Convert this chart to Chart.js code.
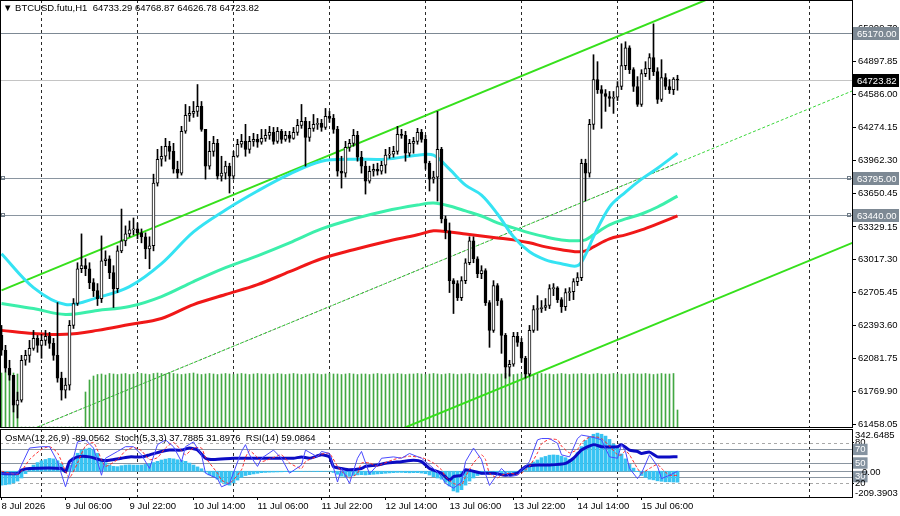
<!DOCTYPE html>
<html lang="en">
<head>
<meta charset="utf-8">
<title>BTCUSD.futu,H1</title>
<script src="https://cdn.jsdelivr.net/npm/chart.js@4.4.1/dist/chart.umd.min.js"></script>
<style>
  html, body { margin: 0; padding: 0; background: #fff; }
  #wrap { position: relative; width: 900px; height: 516px; overflow: hidden; background: #fff; }
  #mainBox { position: absolute; left: 0; top: 0; width: 900px; height: 428px; }
  #subBox { position: absolute; left: 0; top: 428px; width: 900px; height: 88px; }
  .label { position: absolute; font: 9.5px "Liberation Sans", Arial, sans-serif; color: #000; white-space: pre; line-height: 12px; }
  #title { left: 3px; top: 2px; }
  #subTitle { left: 5px; top: 432px; }
</style>
</head>
<body>
<div id="wrap">
  <div id="mainBox"><canvas id="mainChart" width="900" height="428"></canvas></div>
  <div id="subBox"><canvas id="subChart" width="900" height="88"></canvas></div>
  <div class="label" id="title">▼ BTCUSD.futu,H1  64733.29 64768.87 64626.78 64723.82</div>
  <div class="label" id="subTitle">OsMA(12,26,9) -89.0562  Stoch(5,3,3) 37.7885 31.8976  RSI(14) 59.0864</div>
</div>
<script>
// Bars are hourly, index 0 = 8 Jul 2026 14:00
const X_MIN = -0.375;
const X_MAX = 212.625;
const P_MIN = 61429.6;
const P_MAX = 65483.5;

const firstOpen = 62299;

const closes = [
  62158, 61987, 61921, 61638, 61685, 62063, 62110, 62176, 62271, 62205,
  62252, 62290, 62224, 62110, 61893, 61780, 61827, 62394, 62602, 62932,
  62961, 62932, 62800, 62724, 62649, 63008, 63027, 62895, 62743, 63102,
  63197, 63263, 63301, 63310, 63273, 63235, 63121, 63150, 63745, 63972,
  64000, 64095, 64047, 63877, 63840, 64237, 64388, 64407, 64426, 64473,
  64255, 63906, 64047, 64123, 63811, 63840, 63906, 63811, 64000, 64114,
  64142, 64066, 64142, 64161, 64133, 64170, 64199, 64227, 64142, 64237,
  64161, 64199, 64170, 64227, 64293, 64331, 64180, 64265, 64303, 64312,
  64274, 64378, 64359, 64255, 63858, 63840, 64085, 64123, 64199, 63991,
  63906, 63764, 63858, 63877, 63858, 63915, 64010, 64019, 64047, 64208,
  64199, 64029, 64123, 64142, 64227, 64161, 63934, 63783, 63802, 64066,
  63405, 63292, 62819, 62791, 62658, 62819, 62989, 63197, 63027, 62885,
  62914, 62611, 62347, 62772, 62630, 62299, 61997, 62025, 62290, 62233,
  62082, 61931, 62347, 62545, 62554, 62564, 62583, 62743, 62750, 62639,
  62573, 62706, 62715, 62810, 62847, 63934, 63840, 64303, 64728, 64633,
  64596, 64567, 64548, 64560, 64662, 64860, 65030, 64822, 64662, 64492,
  64785, 64832, 64936, 64804, 64539, 64747, 64662, 64633, 64733.29, 64723.82
];

const highs = [
  62394, 62205, 62063, 61921, 61761, 62110, 62158, 62252, 62347, 62299,
  62309, 62347, 62328, 62271, 62611, 61950, 61893, 62441, 62649, 62989,
  63263, 63027, 62989, 62838, 62791, 63244, 63102, 63055, 62961, 63150,
  63499, 63339, 63386, 63414, 63367, 63310, 63273, 63235, 63830, 64066,
  64095, 64170, 64142, 64123, 63953, 64284, 64492, 64473, 64520, 64681,
  64520, 64255, 64142, 64189, 64161, 64000, 63953, 63934, 64047, 64161,
  64208, 64303, 64189, 64218, 64208, 64255, 64255, 64284, 64274, 64274,
  64255, 64237, 64237, 64274, 64350, 64492, 64369, 64331, 64397, 64359,
  64350, 64454, 64426, 64397, 64284, 64000, 64142, 64161, 64255, 64237,
  64047, 63953, 63906, 63925, 63934, 63953, 64066, 64085, 64095, 64284,
  64255, 64237, 64161, 64180, 64265, 64255, 64199, 63953, 63858, 64426,
  64085, 63433, 63367, 62838, 62819, 62857, 63027, 63235, 63235, 63046,
  62961, 62932, 62630, 62819, 62791, 62649, 62318, 62063, 62328, 62328,
  62271, 62101, 62394, 62583, 62677, 62630, 62649, 62781, 62791, 62762,
  62658, 62743, 62753, 62838, 62895, 63972, 63972, 64350, 64964, 64898,
  64671, 64633, 64615, 64615, 64709, 65068, 65087, 65049, 64841, 64756,
  64822, 64898, 64974, 65257, 64841, 64917, 64785, 64728, 64747, 64768.87
];

const lows = [
  62110, 61950, 61874, 61572, 61515, 61666, 62016, 62044, 62158, 62139,
  62082, 62205, 62176, 62063, 61855, 61685, 61704, 61780, 62365, 62583,
  62895, 62866, 62743, 62668, 62583, 62611, 62961, 62838, 62564, 62706,
  63084, 63150, 63235, 63254, 63216, 63178, 63027, 62932, 63102, 63717,
  63906, 63953, 63972, 63840, 63792, 63821, 64218, 64331, 64369, 64378,
  64237, 63783, 63877, 64000, 63783, 63764, 63783, 63651, 63783, 63991,
  64085, 64000, 64029, 64095, 64085, 64114, 64142, 64161, 64114, 64123,
  64123, 64142, 64133, 64161, 64199, 64265, 63906, 64142, 64237, 64255,
  64237, 64255, 64322, 64218, 63811, 63698, 63802, 64047, 64095, 63953,
  63840, 63641, 63745, 63811, 63821, 63830, 63840, 63981, 63991, 64019,
  64170, 63953, 64000, 64029, 64114, 64133, 63877, 63670, 63745, 63575,
  63367, 63216, 62706, 62507, 62630, 62630, 62791, 62970, 62989, 62847,
  62838, 62583, 62186, 62328, 62583, 62129, 61893, 61912, 62006, 62195,
  62044, 61893, 61912, 62328, 62347, 62517, 62536, 62554, 62677, 62611,
  62517, 62536, 62630, 62639, 62772, 62819, 63575, 63802, 64255, 64596,
  64265, 64426, 64473, 64407, 64529, 64633, 64822, 64785, 64615, 64473,
  64473, 64756, 64728, 64766, 64501, 64520, 64633, 64596, 64586, 64626.78
];

const volumes = [
  5400, 5450, 5350, 5400, 5300, 0, 0, 0, 0, 0,
  0, 0, 0, 0, 0, 0, 0, 0, 0, 0,
  0, 3500, 4700, 5100, 5250, 5300, 5200, 5350, 5300, 5250,
  5300, 5350, 5250, 5300, 5400, 5350, 5300, 5250, 5350, 5400,
  5350, 5300, 5400, 5350, 5300, 5250, 5300, 5350, 5400, 5300,
  5250, 5300, 5350, 5300, 5250, 5300, 5350, 5300, 5250, 5300,
  5350, 5300, 5250, 5300, 5350, 5300, 5300, 5250, 5300, 5350,
  5300, 5250, 5300, 5350, 5300, 5250, 5300, 5300, 5350, 5300,
  5250, 5300, 5350, 5300, 5300, 5250, 5300, 5350, 5300, 5250,
  5300, 5300, 5250, 5300, 5350, 5300, 5250, 5300, 5300, 5350,
  5300, 5250, 5300, 5300, 5350, 5300, 5250, 5300, 5350, 5300,
  5250, 5300, 5350, 5300, 5250, 5300, 5300, 5350, 5300, 5250,
  5300, 5350, 5300, 5250, 5300, 5300, 5350, 5300, 5250, 5300,
  5300, 5350, 5300, 5250, 5300, 5350, 5300, 5300, 5250, 5300,
  5350, 5300, 5250, 5300, 5300, 5350, 5300, 5250, 5300, 5350,
  5300, 5250, 5300, 5350, 5300, 5300, 5250, 5300, 5350, 5300,
  5300, 5350, 5300, 5250, 5300, 5350, 5300, 5300, 5350, 1700
];
const VOL_MAX = 42700;

// Moving averages, read at these bars
const maBars = [0, 8, 16, 24, 32, 40, 48, 56, 64, 72, 80, 88, 96, 104, 108, 112, 116, 120, 124, 128, 132, 136, 140, 144, 146, 148, 152, 156, 160, 164, 169];
const maFast = [63074, 62753, 62592, 62658, 62762, 62980, 63282, 63490, 63670, 63830, 63953, 63972, 63972, 64010, 64010, 63877, 63726, 63632, 63452, 63235, 63093, 63017, 62980, 62961, 63065, 63235, 63518, 63660, 63783, 63887, 64029];
const maMid = [62602, 62554, 62498, 62536, 62573, 62668, 62810, 62942, 63055, 63178, 63310, 63405, 63481, 63537, 63556, 63528, 63481, 63433, 63367, 63320, 63273, 63235, 63206, 63197, 63206, 63254, 63348, 63405, 63452, 63518, 63622];
const maSlow = [62347, 62318, 62309, 62347, 62403, 62460, 62592, 62687, 62781, 62904, 63027, 63112, 63188, 63254, 63292, 63282, 63263, 63244, 63225, 63206, 63178, 63140, 63112, 63093, 63102, 63140, 63216, 63254, 63301, 63358, 63433];

// Trend channel end points
const upperBars = [0, 190];
const upperPrices = [62726, 65701];
const lowerBars = [100, 213];
const lowerPrices = [61411, 63182];
const midBars = [0, 213];
const midPrices = [61288, 64625];
const midPastBars = [0, 169];
const midPastPrices = [61288, 63936];

// Axis ticks and levels
const priceTicks = [65209.70, 64897.85, 64586.00, 64274.15, 63962.30, 63650.45, 63329.15, 63017.30, 62705.45, 62393.60, 62081.75, 61769.90, 61458.05];
const priceLevels = [65170.00, 64723.82, 63795.00, 63440.00];
const levelLine = ['#7d8994', '#c4c4c4', '#8a95a0', '#8a95a0'];
const levelBox = ['#7d8994', '#000000', '#7d8994', '#7d8994'];
const levelMarked = [false, false, true, true];

const timeTickBars = [0, 16, 32, 48, 64, 80, 96, 112, 128, 144, 160];
const timeLabels = ['8 Jul 2026', '9 Jul 06:00', '9 Jul 22:00', '10 Jul 14:00', '11 Jul 06:00', '11 Jul 22:00', '12 Jul 14:00', '13 Jul 06:00', '13 Jul 22:00', '14 Jul 14:00', '15 Jul 06:00'];
const dayStarts = [10, 34, 58, 82, 106, 130, 154, 178, 202];

// Indicator window
const osma = [
  -113, -110, -105, -95, -80, -55, -20, 15, 50, 70,
  85, 95, 104, 100, 85, 60, 20, 50, 110, 146,
  170, 180, 187, 175, 146, 100, 70, 50, 40, 37,
  45, 50, 52, 50, 50, 50, 55, 62, 70, 80,
  91, 98, 104, 100, 93, 88, 80, 66, 50, 35,
  20, -8, -30, -45, -65, -90, -105, -113, -95, -72,
  -50, -35, -28, -22, -17, -12, -10, -8, -7, -6,
  -5, -4, -4, -3, -2, -2, -1, -1, -2, -3,
  -2, -1, -1, -10, -25, -40, -45, -42, -35, -30,
  -28, -30, -28, -25, -22, -20, -17, -14, -12, -10,
  -10, -12, -13, -12, -12, -15, -20, -31, -45, -55,
  -65, -90, -120, -160, -170, -150, -113, -80, -55, -35,
  -25, -22, -25, -22, -20, -22, -25, -24, -18, -8,
  15, 35, 55, 75, 91, 110, 120, 130, 132, 130,
  122, 110, 95, 95, 150, 200, 250, 280, 300, 309,
  300, 285, 258, 220, 187, 140, 100, 55, 25, -4,
  -35, -50, -65, -70, -78, -82, -86, -86, -88, -89.0562
];
const OSMA_MIN = -209.3903;
const OSMA_MAX = 342.6485;

const stochBars = [0, 4, 5, 7, 10, 12, 14, 16, 17, 19, 21, 23, 25, 26, 29, 31, 33, 35, 37, 39, 41, 43, 45, 46, 48, 50, 51, 54, 55, 57, 60, 61, 62, 64, 65, 68, 70, 72, 75, 76, 79, 80, 82, 84, 85, 87, 89, 90, 92, 94, 95, 98, 100, 102, 105, 106, 108, 110, 111, 113, 115, 116, 118, 120, 121, 122, 124, 125, 127, 129, 130, 131, 132, 134, 135, 137, 139, 140, 142, 144, 145, 147, 149, 150, 152, 154, 155, 156, 157, 159, 160, 162, 164, 165, 167, 169];
const stochMain = [34, 34, 47, 72, 74, 74, 52, 15, 34, 81, 84, 72, 32, 57, 67, 74, 74, 62, 42, 77, 84, 74, 52, 74, 81, 62, 35, 27, 15, 20, 67, 77, 62, 45, 57, 69, 57, 35, 47, 69, 59, 67, 64, 22, 42, 20, 57, 67, 34, 47, 57, 59, 57, 64, 57, 52, 42, 30, 20, 13, 22, 52, 72, 55, 34, 17, 34, 42, 30, 32, 40, 45, 52, 84, 86, 86, 79, 62, 59, 86, 91, 89, 86, 84, 59, 57, 77, 67, 42, 27, 35, 62, 45, 27, 32, 37.7885];
const stochSignal = [38, 33, 38, 55, 70, 74, 65, 38, 28, 50, 75, 80, 55, 45, 55, 68, 73, 68, 55, 58, 72, 80, 68, 62, 72, 72, 58, 35, 25, 20, 40, 58, 68, 58, 52, 58, 62, 50, 42, 52, 60, 63, 64, 45, 38, 28, 35, 50, 50, 45, 48, 55, 58, 60, 58, 56, 50, 40, 30, 20, 18, 30, 50, 62, 55, 35, 28, 32, 35, 33, 35, 40, 45, 65, 78, 85, 84, 75, 65, 70, 80, 88, 88, 86, 75, 62, 62, 68, 62, 42, 35, 42, 48, 42, 32, 31.8976];

const rsiBars = [0, 4, 5, 7, 15, 16, 17, 19, 22, 25, 27, 30, 32, 35, 37, 40, 42, 45, 47, 49, 51, 53, 58, 63, 68, 73, 75, 77, 80, 82, 83, 85, 87, 90, 91, 94, 96, 100, 103, 105, 107, 110, 112, 113, 115, 116, 120, 123, 126, 129, 131, 134, 137, 141, 143, 145, 148, 150, 154, 155, 157, 159, 160, 162, 164, 167, 169];
const rsiValues = [34.5, 34.5, 39.6, 42, 42, 37, 52, 59, 59, 54, 54, 57, 59, 59, 62, 67, 69, 69, 72, 69, 57, 55, 57, 57, 57, 57, 59, 57, 62, 59, 44.6, 42, 40, 42, 45, 47, 49.5, 52, 54, 52, 42, 35, 25, 30, 32, 40, 35, 35, 32, 35, 44.6, 47, 47, 49.5, 57, 69, 77, 74, 74, 77, 69, 67, 64, 66, 59, 59, 59.0864];

const stochLevels = [80, 70, 50, 30, 20];
const boxedLevels = [70, 50, 30];
const dashedLevels = [80, 20];

const FONT = { family: '"Liberation Sans", Arial, sans-serif', size: 9.5 };
const FONT_CSS = '9.5px "Liberation Sans", Arial, sans-serif';

Chart.defaults.font.family = FONT.family;
Chart.defaults.font.size = FONT.size;
Chart.defaults.color = '#000';

// Build candle pieces
const opens = closes.map((c, i) => (i === 0 ? firstOpen : closes[i - 1]));
const bodyData = closes.map((c, i) => ({ x: i, y: [opens[i], c] }));
const wickData = closes.map((c, i) => ({
  x: i,
  y: [Math.min(lows[i], opens[i], c), Math.max(highs[i], opens[i], c)]
}));
const bodyFill = closes.map((c, i) => (c >= opens[i] ? '#ffffff' : '#000000'));

function pairs(xs, ys) {
  return xs.map((x, k) => ({ x: x, y: ys[k] }));
}

function noPadding(scale) {
  scale.paddingTop = 0;
  scale.paddingBottom = 0;
  scale.paddingLeft = 0;
  scale.paddingRight = 0;
}

// Dashed day separators
function drawSeparators(chart) {
  const { ctx, chartArea: a, scales } = chart;
  ctx.save();
  ctx.strokeStyle = '#2a2a2a';
  ctx.lineWidth = 1;
  ctx.setLineDash([3, 3]);
  dayStarts.forEach((b) => {
    const x = Math.floor(scales.x.getPixelForValue(b)) + 0.5;
    if (x < a.left || x > a.right) return;
    ctx.beginPath();
    ctx.moveTo(x, a.top);
    ctx.lineTo(x, a.bottom);
    ctx.stroke();
  });
  ctx.restore();
}

function drawFrame(chart) {
  const { ctx, chartArea: a } = chart;
  ctx.save();
  ctx.strokeStyle = '#000';
  ctx.lineWidth = 1;
  ctx.strokeRect(a.left + 0.5, a.top + 0.5, a.right - a.left, a.bottom - a.top);
  ctx.restore();
}

const mainDecor = {
  id: 'mainDecor',
  beforeDatasetsDraw(chart) {
    const { ctx, chartArea: a, scales } = chart;
    drawSeparators(chart);
    ctx.save();
    priceLevels.forEach((v, k) => {
      const y = Math.round(scales.y.getPixelForValue(v)) + 0.5;
      ctx.strokeStyle = levelLine[k];
      ctx.lineWidth = 1;
      ctx.beginPath();
      ctx.moveTo(a.left, y);
      ctx.lineTo(a.right, y);
      ctx.stroke();
    });
    ctx.restore();
  },
  afterDraw(chart) {
    const { ctx, chartArea: a, scales } = chart;
    drawFrame(chart);
    ctx.save();
    ctx.font = FONT_CSS;
    ctx.textBaseline = 'middle';
    priceLevels.forEach((v, k) => {
      const y = Math.round(scales.y.getPixelForValue(v));
      // little square handles on marked lines
      if (levelMarked[k]) {
        ctx.strokeStyle = '#6f7b86';
        ctx.strokeRect(a.left + 1.5, y - 1.5, 3, 3);
        ctx.strokeRect(a.right - 4.5, y - 1.5, 3, 3);
      }
      ctx.fillStyle = levelBox[k];
      ctx.fillRect(a.right + 1, y - 6, 46, 13);
      ctx.fillStyle = '#fff';
      ctx.fillText(v.toFixed(2), a.right + 5, y + 1);
    });
    ctx.restore();
  }
};

const subDecor = {
  id: 'subDecor',
  beforeDatasetsDraw(chart) {
    const { ctx, chartArea: a, scales } = chart;
    drawSeparators(chart);
    ctx.save();
    ctx.lineWidth = 1;
    stochLevels.forEach((v) => {
      const y = Math.round(scales.ys.getPixelForValue(v)) + 0.5;
      const dashed = dashedLevels.includes(v);
      ctx.strokeStyle = dashed ? '#a8a8a8' : '#8a95a0';
      ctx.setLineDash(dashed ? [3, 3] : []);
      ctx.beginPath();
      ctx.moveTo(a.left, y);
      ctx.lineTo(a.right, y);
      ctx.stroke();
    });
    ctx.setLineDash([]);
    const y0 = Math.round(scales.yo.getPixelForValue(0)) + 0.5;
    ctx.strokeStyle = '#8a95a0';
    ctx.beginPath();
    ctx.moveTo(a.left, y0);
    ctx.lineTo(a.right, y0);
    ctx.stroke();

    // OsMA scale labels
    ctx.font = FONT_CSS;
    ctx.fillStyle = '#000';
    ctx.textBaseline = 'top';
    ctx.fillText(OSMA_MAX.toFixed(4), a.right + 3, a.top + 2);
    ctx.textBaseline = 'middle';
    ctx.fillText('0.00', a.right + 10, y0 + 1);
    ctx.textBaseline = 'bottom';
    ctx.fillText(OSMA_MIN.toFixed(4), a.right + 3, a.bottom + 1);
    ctx.restore();
  },
  afterDraw(chart) {
    drawFrame(chart);
  }
};

// Price window
new Chart(document.getElementById('mainChart'), {
  type: 'bar',
  data: {
    datasets: [
      {
        type: 'bar', data: bodyData, backgroundColor: bodyFill, borderColor: '#000',
        borderWidth: 1, borderSkipped: false, barThickness: 3, minBarLength: 1,
        grouped: false, yAxisID: 'y', order: 1
      },
      {
        type: 'bar', data: wickData, backgroundColor: '#000', barThickness: 1,
        grouped: false, yAxisID: 'y', order: 2
      },
      {
        type: 'line', data: pairs(maBars, maFast), borderColor: '#35e3f3', borderWidth: 3,
        pointRadius: 0, tension: 0.35, yAxisID: 'y', order: 3
      },
      {
        type: 'line', data: pairs(maBars, maMid), borderColor: '#3cefab', borderWidth: 3,
        pointRadius: 0, tension: 0.35, yAxisID: 'y', order: 4
      },
      {
        type: 'line', data: pairs(maBars, maSlow), borderColor: '#f01818', borderWidth: 3,
        pointRadius: 0, tension: 0.35, yAxisID: 'y', order: 5
      },
      {
        type: 'line', data: pairs(upperBars, upperPrices), borderColor: '#36e01c', borderWidth: 2,
        pointRadius: 0, yAxisID: 'y', order: 6
      },
      {
        type: 'line', data: pairs(lowerBars, lowerPrices), borderColor: '#36e01c', borderWidth: 2,
        pointRadius: 0, yAxisID: 'y', order: 6
      },
      {
        type: 'line', data: pairs(midBars, midPrices), borderColor: '#3ad63a', borderWidth: 1,
        borderDash: [3, 2], borderDashOffset: 2, pointRadius: 0, yAxisID: 'y', order: 7
      },
      {
        type: 'line', data: pairs(midPastBars, midPastPrices), borderColor: '#555555', borderWidth: 1,
        borderDash: [2, 3], pointRadius: 0, yAxisID: 'y', order: 8
      },
      {
        type: 'bar', data: volumes.map((v, i) => ({ x: i, y: v })), backgroundColor: '#42a842',
        barThickness: 1, grouped: false, yAxisID: 'yv', order: 9
      }
    ]
  },
  options: {
    responsive: false,
    animation: false,
    events: [],
    layout: { padding: { top: 0, bottom: 1, left: 0, right: 0 } },
    plugins: { legend: { display: false }, tooltip: { enabled: false } },
    scales: {
      x: { type: 'linear', min: X_MIN, max: X_MAX, offset: false, grid: { offset: false }, display: false },
      y: {
        type: 'linear', position: 'right', min: P_MIN, max: P_MAX,
        afterBuildTicks: (s) => { s.ticks = priceTicks.map((v) => ({ value: v })); },
        ticks: { autoSkip: false, padding: 2, font: FONT, color: '#000', callback: (v) => v.toFixed(2) },
        grid: { drawOnChartArea: false, tickLength: 4, color: '#000' },
        border: { color: '#000' },
        afterFit: (s) => { s.width = 48; noPadding(s); }
      },
      yv: { type: 'linear', display: false, min: 0, max: VOL_MAX }
    }
  },
  plugins: [mainDecor]
});

// Indicator window (OsMA, Stochastic, RSI)
new Chart(document.getElementById('subChart'), {
  type: 'bar',
  data: {
    datasets: [
      {
        type: 'line', data: pairs(stochBars, stochMain), borderColor: '#4a4aff', borderWidth: 1,
        pointRadius: 0, tension: 0, yAxisID: 'ys', order: 1
      },
      {
        type: 'line', data: pairs(stochBars, stochSignal), borderColor: '#ff2b2b', borderWidth: 1,
        borderDash: [3, 2], pointRadius: 0, tension: 0.2, yAxisID: 'ys', order: 2
      },
      {
        type: 'line', data: pairs(rsiBars, rsiValues), borderColor: '#0c0cc4', borderWidth: 3,
        pointRadius: 0, tension: 0.2, yAxisID: 'ys', order: 3
      },
      {
        type: 'bar', data: osma.map((v, i) => ({ x: i, y: v })), backgroundColor: '#38c3f2',
        barThickness: 3, grouped: false, yAxisID: 'yo', order: 4
      }
    ]
  },
  options: {
    responsive: false,
    animation: false,
    events: [],
    layout: { padding: { top: 1, bottom: 0, left: 0, right: 0 } },
    plugins: { legend: { display: false }, tooltip: { enabled: false } },
    scales: {
      x: {
        type: 'linear', min: X_MIN, max: X_MAX, offset: false,
        afterBuildTicks: (s) => { s.ticks = timeTickBars.map((v) => ({ value: v })); },
        ticks: {
          autoSkip: false, maxRotation: 0, align: 'start', padding: 1, font: FONT, color: '#000',
          callback: (v, i) => timeLabels[i]
        },
        grid: { drawOnChartArea: false, tickLength: 3, color: '#000', offset: false },
        border: { color: '#000' },
        afterFit: (s) => { s.height = 19; noPadding(s); }
      },
      ys: {
        type: 'linear', position: 'right', min: 0, max: 100,
        afterBuildTicks: (s) => { s.ticks = stochLevels.map((v) => ({ value: v })); },
        ticks: {
          autoSkip: false, padding: 1, font: FONT,
          color: (ctx) => (boxedLevels.includes(ctx.tick.value) ? '#fff' : '#000'),
          showLabelBackdrop: (ctx) => boxedLevels.includes(ctx.tick.value),
          backdropColor: '#8593a0',
          backdropPadding: { x: 2, y: 0 },
          callback: (v) => String(v)
        },
        grid: { drawOnChartArea: false, tickLength: 2, color: '#000' },
        border: { color: '#000' },
        afterFit: (s) => { s.width = 48; noPadding(s); }
      },
      yo: { type: 'linear', display: false, min: OSMA_MIN, max: OSMA_MAX }
    }
  },
  plugins: [subDecor]
});
</script>
</body>
</html>
